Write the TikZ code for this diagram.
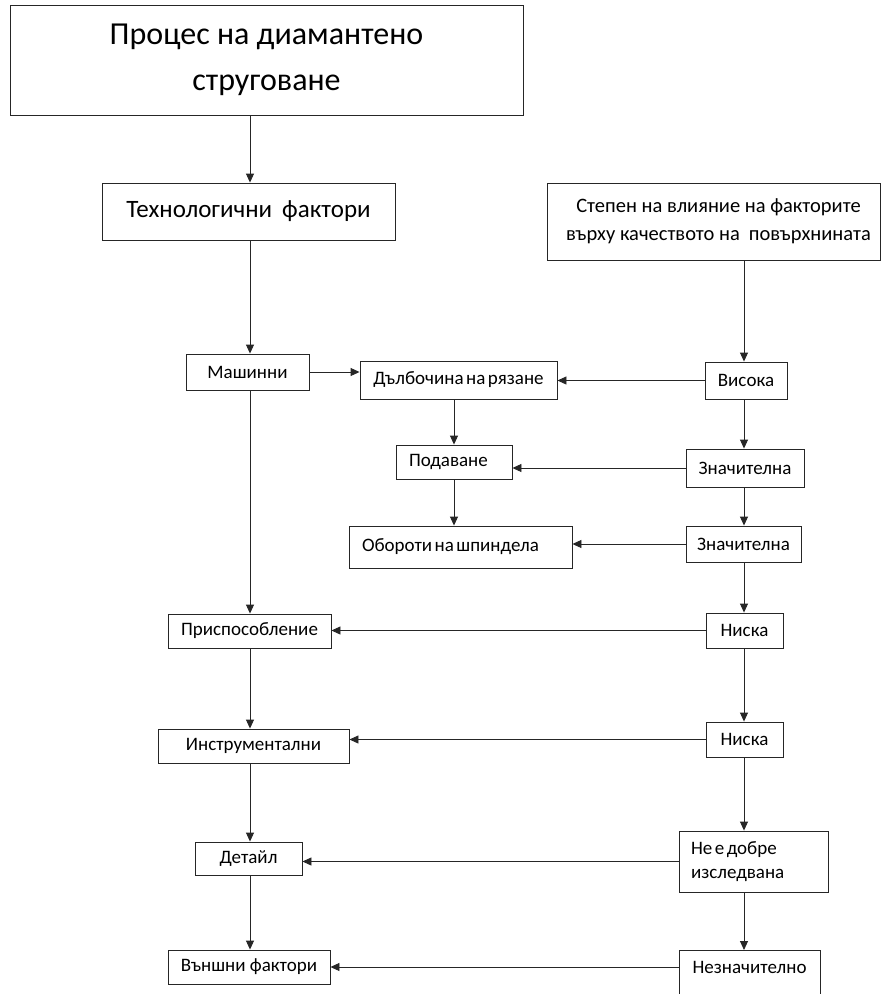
\documentclass[tikz,border=0pt]{standalone}
\usepackage{fontspec}
\setmainfont{Carlito}
\usetikzlibrary{arrows.meta}
\newcommand{\ns}{\hspace{2.5pt}}
\begin{document}
\begin{tikzpicture}[x=1pt,y=-1pt,
  box/.style={draw=black!85, line width=0.9pt, inner sep=0pt, fill=white,
    font=\fontsize{19}{23}\selectfont},
  arr/.style={draw=black!85, line width=0.9pt, -{Triangle[length=9pt,width=8pt]}}]
\useasboundingbox[fill=white] (0,0) rectangle (881,994);
\coordinate (lc) at (250,0);
\coordinate (mc) at (454,0);
\coordinate (rc) at (744,0);
% left column
\node[box, minimum width=513pt, minimum height=110pt, align=center,
  font=\fontsize{32}{46}\selectfont] (top) at (266.5,60) {Процес на диамантено\\струговане};
\node[box, minimum width=293pt, minimum height=57pt,
  font=\fontsize{25}{29}\selectfont] (tech) at (248.5,211.5) {Технологични\hspace{10pt}фактори};
\node[box, minimum width=123pt, minimum height=36pt] (mash) at (247.5,372) {Машинни};
\node[box, minimum width=163pt, minimum height=34pt] (prisp) at (249.5,631) {Приспособление};
\node[box, minimum width=191pt, minimum height=34pt] (instr) at (253.5,746) {Инструментални};
\node[box, minimum width=107pt, minimum height=33pt] (detail) at (248.5,858.5) {Детайл};
\node[box, minimum width=162pt, minimum height=34pt] (vansh) at (249,967) {Външни фактори};
% middle column
\node[box, minimum width=197pt, minimum height=38pt] (dalb) at (458.5,380) {Дълбочина\ns на\ns рязане};
\node[box, minimum width=116pt, minimum height=34pt, text width=104pt, inner xsep=6pt, align=left] (podav) at (454,462) {\hspace*{7pt}Подаване};
\node[box, minimum width=223pt, minimum height=42pt, text width=211pt, inner xsep=6pt, align=left] (obor) at (460.5,547) {\hspace*{7pt}Обороти\ns на\ns шпиндела};
% right column
\node[box, minimum width=333pt, minimum height=77pt, align=center,
  font=\fontsize{20.5}{28}\selectfont] (step) at (713.5,221.5) {\hspace*{10pt}Степен на влияние на факторите\\\hspace*{10pt}върху качеството на\hspace{9pt}повърхнината};
\node[box, minimum width=82pt, minimum height=37pt] (vis) at (746,380.5) {Висока};
\node[box, minimum width=118pt, minimum height=38pt] (zn1) at (745,468) {Значителна};
\node[box, minimum width=115pt, minimum height=36pt] (zn2) at (743.5,544) {Значителна};
\node[box, minimum width=77pt, minimum height=35pt] (nis1) at (744.5,630.5) {Ниска};
\node[box, minimum width=77pt, minimum height=35pt] (nis2) at (744.5,739.5) {Ниска};
\node[box, minimum width=149pt, minimum height=61pt, text width=125pt, inner xsep=12pt, align=left,
  font=\fontsize{19}{24}\selectfont] (ne) at (753.5,861.5) {Не\ns е\ns добре\\изследвана};
\node[box, anchor=north, minimum width=141pt, text height=13pt, text depth=30pt, inner ysep=10pt] (nezn) at (749.5,950) {Незначително};
% left column connectors
\draw[arr] (top.south -| lc) -- (tech.north -| lc);
\draw[arr] (tech.south -| lc) -- (mash.north -| lc);
\draw[arr] (mash.south -| lc) -- (prisp.north -| lc);
\draw[arr] (prisp.south -| lc) -- (instr.north -| lc);
\draw[arr] (instr.south -| lc) -- (detail.north -| lc);
\draw[arr] (detail.south -| lc) -- (vansh.north -| lc);
% middle connectors
\draw[arr] (mash.east) -- (mash.east -| dalb.west);
\draw[arr] (dalb.south -| mc) -- (podav.north -| mc);
\draw[arr] (podav.south -| mc) -- (obor.north -| mc);
% right column connectors
\draw[arr] (step.south -| rc) -- (vis.north -| rc);
\draw[arr] (vis.south -| rc) -- (zn1.north -| rc);
\draw[arr] (zn1.south -| rc) -- (zn2.north -| rc);
\draw[arr] (zn2.south -| rc) -- (nis1.north -| rc);
\draw[arr] (nis1.south -| rc) -- (nis2.north -| rc);
\draw[arr] (nis2.south -| rc) -- (ne.north -| rc);
\draw[arr] (ne.south -| rc) -- (nezn.north -| rc);
% horizontal connectors
\draw[arr] (vis.west) -- (vis.west -| dalb.east);
\draw[arr] (zn1.west) -- (zn1.west -| podav.east);
\draw[arr] (zn2.west) -- (zn2.west -| obor.east);
\draw[arr] (nis1.west) -- (nis1.west -| prisp.east);
\draw[arr] (nis2.west) -- (nis2.west -| instr.east);
\draw[arr] (ne.west) -- (ne.west -| detail.east);
\draw[arr] (vansh.east -| nezn.west) -- (vansh.east);
\end{tikzpicture}
\end{document}
